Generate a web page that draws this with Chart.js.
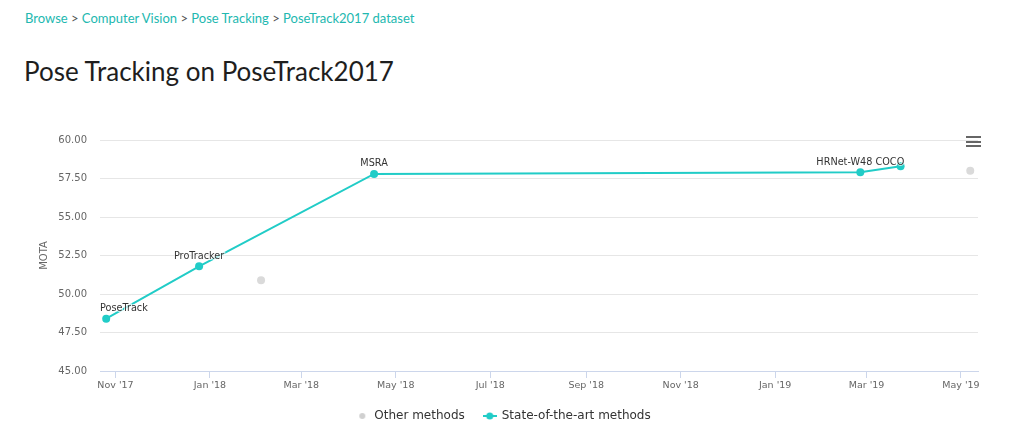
<!DOCTYPE html>
<html>
<head>
<meta charset="utf-8">
<script src="https://cdn.jsdelivr.net/npm/chart.js@4.4.1/dist/chart.umd.min.js"></script>
<style>
body { margin: 0; background: #fff; width: 1024px; height: 448px; overflow: hidden; position: relative; font-family: Lato, sans-serif; }
.crumbs { position: absolute; left: 25px; top: 12px; font-size: 13px; line-height: 1; color: #22b8b0; white-space: nowrap; }
.crumbs span { color: #555; }
h1 { position: absolute; left: 24px; top: 58px; margin: 0; font-size: 26px; line-height: 1; font-weight: 400; color: #1e1e1e; white-space: nowrap; }
#wrap { position: absolute; left: 0; top: 110px; width: 1024px; height: 338px; }
.menu { position: absolute; left: 966px; top: 136px; width: 15px; }
.menu i { display: block; height: 2px; background: #666; margin-bottom: 2.5px; }
</style>
</head>
<body>
<div class="crumbs">Browse <span>&gt;</span> Computer Vision <span>&gt;</span> Pose Tracking <span>&gt;</span> PoseTrack2017 dataset</div>
<h1>Pose Tracking on PoseTrack2017</h1>
<div id="wrap"><canvas id="chart" width="1024" height="338"></canvas></div>
<div class="menu"><i></i><i></i><i></i></div>
<script>
// state-of-the-art line (paper date, MOTA)
var sotaNames = ['PoseTrack', 'ProTracker', 'MSRA', 'HRNet-W48 COCO', ''];
var sotaDates = ['2017-10-26', '2017-12-25', '2018-04-17', '2019-02-25', '2019-03-23'];
var sotaMota = [48.4, 51.8, 57.8, 57.9, 58.3];

// other methods (grey dots)
var otherDates = ['2018-02-03', '2019-05-07'];
var otherMota = [50.9, 58.0];

// axes
var xRange = ['2017-10-22', '2019-05-12'];
var tickMonths = ['2017-11-01', '2018-01-01', '2018-03-01', '2018-05-01', '2018-07-01',
                  '2018-09-01', '2018-11-01', '2019-01-01', '2019-03-01', '2019-05-01'];
var tickLabels = ["Nov '17", "Jan '18", "Mar '18", "May '18", "Jul '18",
                  "Sep '18", "Nov '18", "Jan '19", "Mar '19", "May '19"];
var yTicks = [45, 47.5, 50, 52.5, 55, 57.5, 60];

var teal = '#21ccc7';
var grey = '#dadada';

function toPoints(dates, vals) {
	return dates.map(function(d, i){ return {x: Date.parse(d), y: vals[i]}; });
}

// small canvases for the legend symbols
function legendIcon(color, line) {
	var c = document.createElement('canvas');
	c.width = 14; c.height = 8;
	var g = c.getContext('2d');
	if (line) {
		g.strokeStyle = color; g.lineWidth = 2;
		g.beginPath(); g.moveTo(0, 4); g.lineTo(14, 4); g.stroke();
	}
	g.fillStyle = color;
	g.beginPath(); g.arc(7, 4, line ? 3.5 : 3, 0, Math.PI * 2); g.fill();
	return c;
}
var icons = [legendIcon('#d0d0d0', false), legendIcon(teal, true)];

// names above the sota points, kept inside the plot
var pointLabels = {
	id: 'pointLabels',
	afterDatasetsDraw: function(chart) {
		var ctx = chart.ctx, area = chart.chartArea;
		var meta = chart.getDatasetMeta(1);
		ctx.save();
		ctx.font = '9.7px "DejaVu Sans"';
		ctx.textAlign = 'center';
		ctx.textBaseline = 'middle';
		meta.data.forEach(function(pt, i){
			var txt = sotaNames[i];
			if (!txt) return;
			var w = ctx.measureText(txt).width;
			var x = Math.max(area.left + w / 2, Math.min(pt.x, area.right - w / 2));
			var y = pt.y - 10;
			ctx.lineWidth = 2;
			ctx.strokeStyle = 'rgba(255,255,255,0.7)';
			ctx.strokeText(txt, x, y);
			ctx.fillStyle = '#333';
			ctx.fillText(txt, x, y);
		});
		ctx.restore();
	}
};

new Chart(document.getElementById('chart'), {
	type: 'scatter',
	data: {
		datasets: [{
			label: 'Other methods',
			data: toPoints(otherDates, otherMota),
			showLine: false,
			pointRadius: 4,
			pointBackgroundColor: grey,
			pointBorderWidth: 0,
			backgroundColor: grey,
			borderColor: grey
		}, {
			label: 'State-of-the-art methods',
			data: toPoints(sotaDates, sotaMota),
			showLine: true,
			borderColor: teal,
			borderWidth: 2,
			backgroundColor: teal,
			pointRadius: 4,
			pointBackgroundColor: teal,
			pointBorderWidth: 0,
			tension: 0
		}]
	},
	options: {
		responsive: false,
		animation: false,
		layout: { padding: { left: 29, right: 46, top: 30, bottom: 16 } },
		plugins: {
			tooltip: { enabled: false },
			legend: {
				position: 'bottom',
				labels: {
					usePointStyle: true,
					pointStyleWidth: 12,
					boxHeight: 8,
					padding: 19,
					color: '#333',
					font: { family: 'DejaVu Sans', size: 12 },
					generateLabels: function(chart) {
						return chart.data.datasets.map(function(ds, i){
							return { text: ds.label, pointStyle: icons[i], datasetIndex: i,
								fillStyle: ds.backgroundColor, strokeStyle: ds.borderColor,
								lineWidth: 0, hidden: false, fontColor: '#333' };
						});
					}
				}
			}
		},
		scales: {
			x: {
				type: 'linear',
				min: Date.parse(xRange[0]),
				max: Date.parse(xRange[1]),
				afterBuildTicks: function(scale) {
					scale.ticks = tickMonths.map(function(d){ return {value: Date.parse(d)}; });
				},
				afterFit: function(scale) { scale.height = 20; },
				grid: { drawOnChartArea: false, drawTicks: true, tickLength: 7, color: '#ccd6eb' },
				border: { display: true, color: '#ccd6eb' },
				ticks: {
					autoSkip: false, maxRotation: 0, padding: 2, color: '#666',
					font: { family: 'DejaVu Sans', size: 9.5 },
					callback: function(v, i){ return tickLabels[i]; }
				}
			},
			y: {
				min: 45,
				max: 60,
				afterBuildTicks: function(scale) {
					scale.ticks = yTicks.map(function(v){ return {value: v}; });
				},
				afterFit: function(scale) { scale.width = 71; },
				grid: { color: '#e6e6e6', drawTicks: false },
				border: { display: false },
				ticks: {
					padding: 13, color: '#666',
					font: { family: 'DejaVu Sans', size: 10 },
					callback: function(v){ return v.toFixed(2); }
				},
				title: {
					display: true, text: 'MOTA', color: '#666',
					padding: { top: 9, bottom: 0 },
					font: { family: 'DejaVu Sans', size: 10 }
				}
			}
		}
	},
	plugins: [pointLabels]
});
</script>
</body>
</html>
